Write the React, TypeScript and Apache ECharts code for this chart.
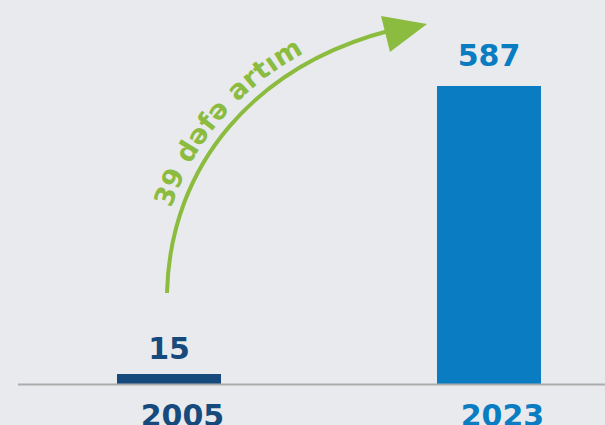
import React, { useEffect, useRef } from "react";
import * as echarts from "echarts";

const categories = ["2005", "2023"];
const values = [15, 587];
const barColors = ["#174a7c", "#0a7cc2"];
const labelDistances = [11, 15];
const annotationText = "39 dəfə artım";

const GREEN = "#8cbc3f";
const BG = "#e9eaee";
const FONT = "'DejaVu Sans', sans-serif";

// arrow curve control points (decoration)
const P0 = [167, 293];
const P1 = [170, 165];
const P2 = [255, 65];
const P3 = [392, 30];

function bez(t: number) {
  const a = (1 - t) ** 3, b = 3 * (1 - t) ** 2 * t, c = 3 * (1 - t) * t * t, d = t ** 3;
  return [a * P0[0] + b * P1[0] + c * P2[0] + d * P3[0], a * P0[1] + b * P1[1] + c * P2[1] + d * P3[1]];
}
function der(t: number) {
  const a = 3 * (1 - t) ** 2, b = 6 * (1 - t) * t, c = 3 * t * t;
  return [a * (P1[0] - P0[0]) + b * (P2[0] - P1[0]) + c * (P3[0] - P2[0]), a * (P1[1] - P0[1]) + b * (P2[1] - P1[1]) + c * (P3[1] - P2[1])];
}

function buildCurvedText(fontSize: number, offset: number, tStart: number, spacing: number) {
  const N = 600;
  const pts: { x: number; y: number; ang: number; s: number; t: number }[] = [];
  let s = 0;
  for (let i = 0; i <= N; i++) {
    const t = i / N;
    const p = bez(t);
    const d = der(t);
    const len = Math.hypot(d[0], d[1]);
    const nx = d[1] / len, ny = -d[0] / len;
    const x = p[0] + offset * nx, y = p[1] + offset * ny;
    if (i > 0) s += Math.hypot(x - pts[i - 1].x, y - pts[i - 1].y);
    pts.push({ x, y, ang: Math.atan2(-d[1], d[0]), s, t });
  }
  const at = (sv: number) => {
    for (let i = 1; i < pts.length; i++) {
      if (pts[i].s >= sv) {
        const f = (sv - pts[i - 1].s) / (pts[i].s - pts[i - 1].s || 1);
        return {
          x: pts[i - 1].x + f * (pts[i].x - pts[i - 1].x),
          y: pts[i - 1].y + f * (pts[i].y - pts[i - 1].y),
          ang: pts[i - 1].ang + f * (pts[i].ang - pts[i - 1].ang),
        };
      }
    }
    return pts[pts.length - 1];
  };
  const s0 = pts[Math.round(tStart * N)].s;
  const canvas = document.createElement("canvas");
  const ctx = canvas.getContext("2d")!;
  ctx.font = `bold ${fontSize}px 'DejaVu Sans'`;
  const els: any[] = [];
  let cur = s0;
  for (const ch of Array.from(annotationText)) {
    const w = ctx.measureText(ch).width;
    const p = at(cur + w / 2);
    if (ch !== " ") {
      els.push({
        type: "text",
        x: p.x,
        y: p.y,
        rotation: p.ang,
        silent: true,
        style: {
          text: ch,
          fill: GREEN,
          fontSize,
          fontWeight: "bold",
          fontFamily: FONT,
          align: "center",
          verticalAlign: "middle",
          textAlign: "center",
          textVerticalAlign: "middle",
        },
      });
    }
    cur += w + spacing;
  }
  return els;
}

export default function App() {
  const ref = useRef<HTMLDivElement>(null);
  useEffect(() => {
    if (!ref.current) return;
    const chart = echarts.init(ref.current, null, { renderer: "svg" });
    const graphics: any[] = [
      {
        type: "line",
        silent: true,
        shape: { x1: 18, y1: 384.5, x2: 605, y2: 384.5 },
        style: { stroke: "#acacac", lineWidth: 2 },
        z: 10,
      },
      {
        type: "bezierCurve",
        silent: true,
        shape: { x1: P0[0], y1: P0[1], cpx1: P1[0], cpy1: P1[1], cpx2: P2[0], cpy2: P2[1], x2: P3[0], y2: P3[1] },
        style: { stroke: GREEN, lineWidth: 4, fill: "none" },
      },
      {
        type: "polygon",
        silent: true,
        shape: { points: [[427, 24], [381, 16], [390, 52]] },
        style: { fill: GREEN },
      },
      ...buildCurvedText(27, 20, 0.225, 0.8),
    ];
    chart.setOption({
      animation: false,
      backgroundColor: BG,
      grid: { left: 9, right: -44, top: 79.4, bottom: 41, outerBoundsMode: "none", containLabel: false },
      xAxis: {
        type: "category",
        data: categories,
        axisLine: { show: false },
        axisTick: { show: false },
        axisLabel: {
          margin: 16,
          fontSize: 30,
          fontWeight: "bold",
          fontFamily: FONT,
          padding: [0, 0, 0, 27],
          color: (_v: any, i: number) => barColors[i],
        },
      },
      yAxis: { type: "value", min: 0, max: 600, show: false, splitLine: { show: false } },
      series: [
        {
          type: "bar",
          barWidth: 104,
          barMinHeight: 10,
          data: values.map((v, i) => ({
            value: v,
            itemStyle: { color: barColors[i] },
            label: { distance: labelDistances[i], color: barColors[i] },
          })),
          label: {
            show: true,
            position: "top",
            fontSize: 30,
            fontWeight: "bold",
            fontFamily: FONT,
          },
        },
      ],
      graphic: graphics,
    });
    return () => chart.dispose();
  }, []);
  return (
    <div
      ref={ref}
      style={{ position: "fixed", left: 0, top: 0, width: 605, height: 425, background: BG }}
    />
  );
}
